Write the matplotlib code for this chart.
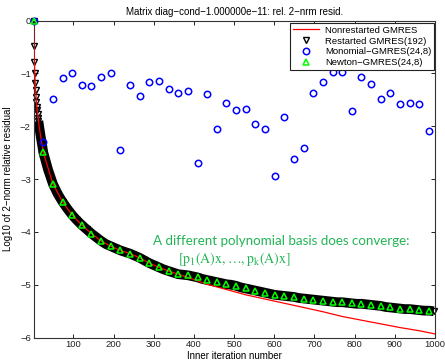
import matplotlib
matplotlib.use('Agg')
import matplotlib.pyplot as plt

plt.rcParams['font.family'] = ['Liberation Sans', 'DejaVu Sans']
plt.rcParams['mathtext.fontset'] = 'stix'

# Monomial-GMRES(24,8) and Newton-GMRES(24,8): one point every 24 iterations
basis_iters = [1 + 24 * k for k in range(42)]
monomial = [0.0, -2.30, -1.49, -1.09, -0.99, -1.21, -1.23, -1.06, -0.99, -2.45,
            -1.22, -1.43, -1.16, -1.14, -1.30, -1.37, -1.33, -2.70, -1.38, -2.05,
            -1.55, -1.69, -1.68, -1.96, -2.05, -2.94, -1.83, -2.61, -2.41, -1.37,
            -1.17, -0.97, -0.97, -1.71, -1.06, -1.20, -1.49, -1.37, -1.57, -1.56,
            -1.57, -2.08]
newton = [0.0, -2.49, -3.09, -3.43, -3.68, -3.87, -4.03, -4.17, -4.27, -4.35,
          -4.41, -4.49, -4.59, -4.67, -4.74, -4.80, -4.82, -4.86, -4.91, -4.95,
          -4.99, -5.02, -5.07, -5.11, -5.15, -5.19, -5.21, -5.23, -5.26, -5.28,
          -5.30, -5.32, -5.33, -5.35, -5.36, -5.38, -5.40, -5.43, -5.45, -5.46,
          -5.48, -5.49]

# Restarted GMRES(192)
restart_iters = [1, 2, 3, 4, 5, 6, 7, 8, 9, 10, 11, 12, 13, 15, 17, 19, 21, 23, 25] + \
                list(range(37, 998, 12))
restarted = [0.0, -0.48, -0.78, -0.99, -1.18, -1.32, -1.44, -1.54, -1.63, -1.70,
             -1.77, -1.84, -1.90, -2.01, -2.11, -2.21, -2.30, -2.39, -2.49,
             -2.82, -3.09, -3.28, -3.43, -3.56, -3.68, -3.78, -3.87, -3.95, -4.03,
             -4.10, -4.17, -4.23, -4.27, -4.31, -4.35, -4.38, -4.41, -4.45, -4.49,
             -4.54, -4.59, -4.63, -4.67, -4.71, -4.74, -4.77, -4.80, -4.81, -4.82,
             -4.84, -4.86, -4.89, -4.91, -4.93, -4.95, -4.97, -4.99, -5.00, -5.02,
             -5.05, -5.07, -5.09, -5.11, -5.13, -5.15, -5.17, -5.19, -5.20, -5.21,
             -5.22, -5.23, -5.25, -5.26, -5.27, -5.28, -5.29, -5.30, -5.31, -5.32,
             -5.33, -5.33, -5.34, -5.35, -5.36, -5.36, -5.37, -5.38, -5.39, -5.40,
             -5.42, -5.43, -5.44, -5.45, -5.46, -5.46, -5.47, -5.48, -5.49, -5.49,
             -5.50]

# Nonrestarted GMRES
full_iters = [1, 2, 3, 4, 5, 6, 8, 10, 13, 17, 21, 25, 49, 73, 97, 121, 145, 169,
              193, 217, 241, 265, 289, 313, 337, 361, 385, 433, 481, 529, 577, 625,
              673, 721, 769, 817, 865, 913, 961, 1000]
full = [0.0, -0.48, -0.78, -0.99, -1.18, -1.32, -1.54, -1.70, -1.90, -2.11, -2.30,
        -2.49, -3.09, -3.43, -3.68, -3.87, -4.03, -4.17, -4.27, -4.35, -4.41, -4.49,
        -4.59, -4.67, -4.74, -4.80, -4.86, -4.99, -5.09, -5.19, -5.27, -5.35, -5.43,
        -5.51, -5.60, -5.67, -5.74, -5.81, -5.87, -5.93]

xticks = [100, 200, 300, 400, 500, 600, 700, 800, 900, 1000]
yticks = [0, -1, -2, -3, -4, -5, -6]

fig = plt.figure(figsize=(4.45, 3.61), dpi=100)
ax = fig.add_axes([0.0755, 0.0648, 0.902, 0.878])

# solid band under the restarted markers
ax.plot(restart_iters[12:], restarted[12:], color='black', lw=7,
        solid_capstyle='butt', zorder=2)
ax.plot(full_iters, full, color='#ff0000', lw=0.9, zorder=3,
        label='Nonrestarted GMRES')
ax.plot(restart_iters, restarted, linestyle='none', marker='v', markersize=5,
        markerfacecolor='none', markeredgecolor='black', markeredgewidth=1.0,
        zorder=2.5, clip_on=False, label='Restarted GMRES(192)')
ax.plot(basis_iters, monomial, linestyle='none', marker='o', markersize=4.6,
        markerfacecolor='none', markeredgecolor='#0000ff', markeredgewidth=1.1,
        zorder=4, clip_on=False, label='Monomial\u2212GMRES(24,8)')
ax.plot(basis_iters, newton, linestyle='none', marker='^', markersize=5,
        markerfacecolor='none', markeredgecolor='#00ff00', markeredgewidth=1.1,
        zorder=5, clip_on=False, label='Newton\u2212GMRES(24,8)')

ax.set_xlim(1, 1000)
ax.set_ylim(-6, 0)
ax.set_xticks(xticks)
ax.set_yticks(yticks)
ax.set_yticklabels(['0', '\u22121', '\u22122', '\u22123', '\u22124', '\u22125', '\u22126'])
ax.tick_params(direction='in', top=True, right=True, length=3, width=0.7,
               labelsize=6.8, colors='#222222', pad=2)
for s in ax.spines.values():
    s.set_color('#333333')
    s.set_linewidth(0.8)

ax.set_title('Matrix diag\u2212cond\u22121.000000e\u221211: rel. 2\u2212nrm resid.',
             fontsize=7, pad=4)
ax.set_xlabel('Inner iteration number', fontsize=7, labelpad=1)
ax.set_ylabel('Log10 of 2\u2212norm relative residual', fontsize=7, labelpad=5)

leg = ax.legend(loc='upper right', bbox_to_anchor=(0.998, 0.993), fontsize=6.8,
                fancybox=False, framealpha=1, edgecolor='#222222',
                borderaxespad=0, handlelength=2.8, borderpad=0.3,
                labelspacing=0.2, handletextpad=0.6)
leg.get_frame().set_linewidth(0.8)

green = '#22b455'
ax.text(617, -4.17, 'A different polynomial basis does converge:', color=green,
        fontsize=9.6, family=['Lato', 'DejaVu Sans'], ha='center', va='center')
ax.text(500, -4.51, r'$\mathrm{[p_1(A)x,…,p_k(A)x]}$', color=green,
        fontsize=10, ha='center', va='center')

fig.savefig('out.png', dpi=100)
